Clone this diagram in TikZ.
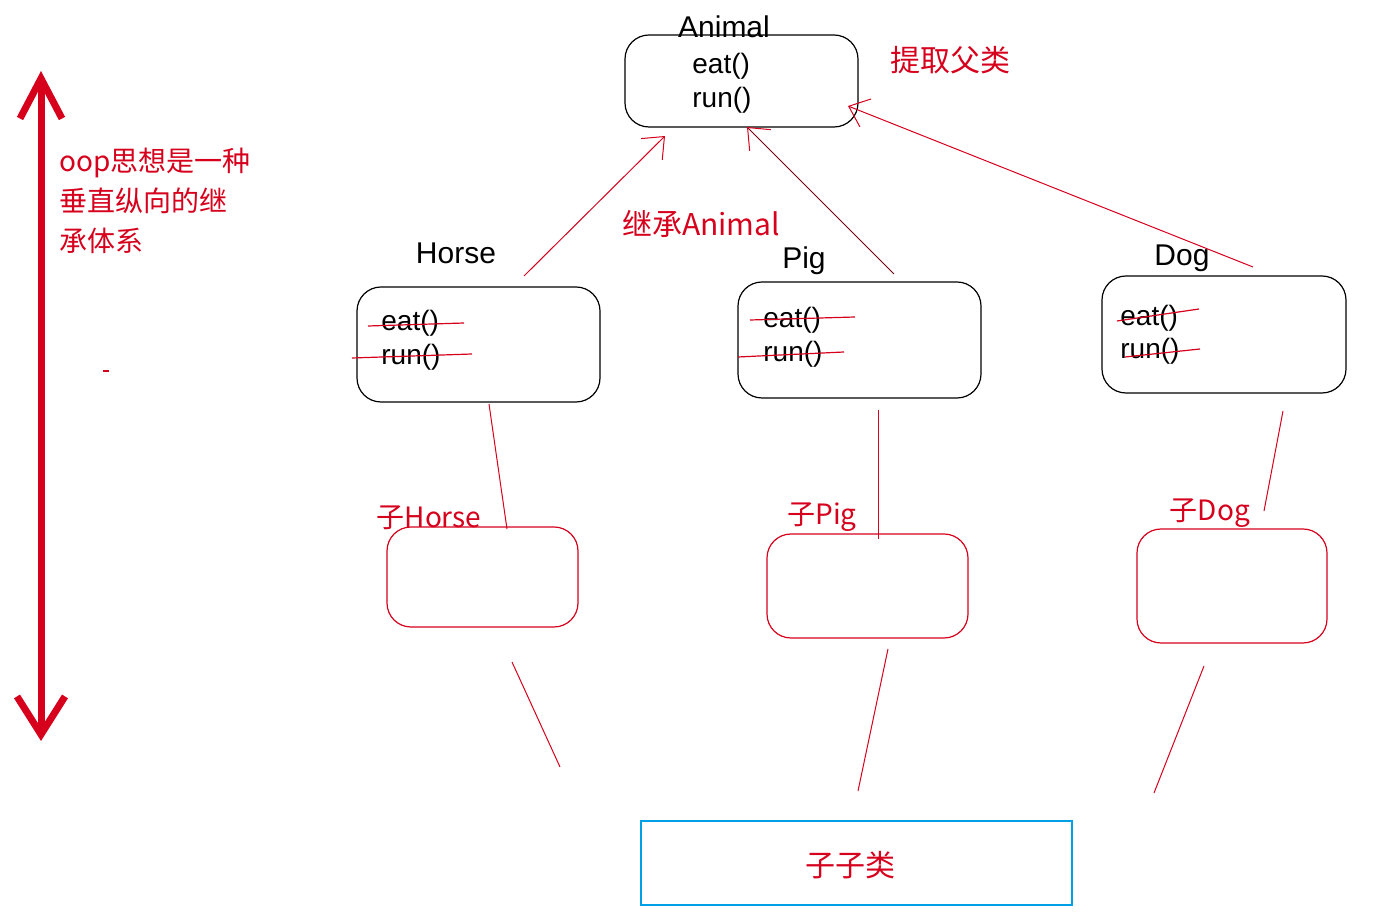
\documentclass[tikz,border=0pt]{standalone}
\usepackage{fontspec}
\setmainfont{Liberation Sans}
\newfontfamily\cjk{Noto Sans CJK SC}
\usetikzlibrary{arrows.meta,calc,positioning}
\definecolor{inkred}{RGB}{214,0,28}
\definecolor{boxblue}{RGB}{0,160,230}
\tikzset{
  classbox/.style={draw,rounded corners=12pt,line width=0.6pt,inner sep=0pt},
  subbox/.style={draw=inkred,rounded corners=12pt,line width=0.6pt,inner sep=0pt},
  title/.style={font=\fontsize{15}{18}\selectfont,inner sep=0pt},
  method/.style={font=\fontsize{14}{16}\selectfont,anchor=west,inner sep=0pt},
  note/.style={text=inkred,font=\cjk\fontsize{14}{20}\selectfont,inner sep=0pt},
  link/.style={inkred,line width=0.5pt},
  inherit/.style={link,-{Straight Barb[length=9pt,width=15pt]}},
  strike/.style={inkred,line width=0.6pt},
}

\begin{document}
\begin{tikzpicture}[x=0.5pt,y=-0.5pt]
    \useasboundingbox (0,0) rectangle (1389,924);
    % left arrow and note
    \coordinate (up) at (41,71);
    \coordinate (down) at (41,741);
    \draw[inkred,line width=3.5pt,{Straight Barb[length=20pt,width=21pt]}-{Straight Barb[length=19pt,width=24pt]}] (up) -- (down);
    \node[note,anchor=west,align=left] (oop) at (59,201) {oop思想是一种\\垂直纵向的继\\承体系};
    \draw[inkred,line width=0.6pt] (103,371) -- (109,371);
    % parent class
    \node[classbox,minimum width=116.5pt,minimum height=46pt] (animal) at (741.5,81) {};
    \node[title] (animalname) at (724,27) {Animal};
    \node[method] (aeat) at (692,66) {eat()};
    \node[method] (arun) at (692,100) {run()};
    \node[note,font=\cjk\fontsize{15}{18}\selectfont] (extract) at (950,60) {提取父类};
    % child classes
    \node[classbox,minimum width=121.5pt,minimum height=57.5pt] (horse) at (478.5,344.5) {};
    \node[title] (horsename) at (456,253) {Horse};
    \node[method] (heat) at (381,323) {eat()};
    \node[method] (hrun) at (381,357) {run()};
    \draw[strike] (368,326) -- (464,323);
    \draw[strike] (352,358) -- (472,354);

    \node[classbox,minimum width=121.5pt,minimum height=58pt] (pig) at (859.5,340) {};
    \node[title] (pigname) at (804,261) {Pig};
    \node[method] (peat) at (763,320) {eat()};
    \node[method] (prun) at (763,354) {run()};
    \draw[strike] (750,320) -- (855,317);
    \draw[strike] (738,357) -- (844,352);

    \node[classbox,minimum width=122pt,minimum height=58.5pt] (dog) at (1224,334.5) {};
    \node[title] (dogname) at (1182,258) {Dog};
    \node[method] (deat) at (1120,318) {eat()};
    \node[method] (drun) at (1120,351) {run()};
    \draw[strike] (1117,321) -- (1199,309);
    \draw[strike] (1125,357) -- (1200,349);

    % inheritance arrows
    \coordinate (hfrom) at (524,276);
    \coordinate (hto) at (665,136);
    \coordinate (pfrom) at (894,274);
    \coordinate (pto) at (747,127);
    \coordinate (dfrom) at (1253,267);
    \coordinate (dto) at (848,106);
    \draw[inherit] (hfrom) -- (hto);
    \draw[line width=0.5pt,inkred!55!black,-{Straight Barb[length=9pt,width=15pt,color=inkred]}] (pfrom) -- (pto);
    \draw[inherit] (dfrom) -- (dto);
    \node[note,font=\cjk\fontsize{15}{18}\selectfont] (extends) at (701,224) {继承Animal};

    % sub classes
    \node[subbox,minimum width=95.5pt,minimum height=50pt] (subhorse) at (482.5,577) {};
    \node[note] (subhorsename) at (429,518) {子Horse};
    \node[subbox,minimum width=100.5pt,minimum height=52pt] (subpig) at (867.5,586) {};
    \node[note] (subpigname) at (822,517) {子Pig};
    \node[subbox,minimum width=95pt,minimum height=57pt] (subdog) at (1232,586) {};
    \node[note] (subdogname) at (1210,513) {子Dog};

    \coordinate (h1) at (489,404); \coordinate (h2) at (507,529);
    \coordinate (p1) at (878,410); \coordinate (p2) at (878,539);
    \coordinate (d1) at (1283,411); \coordinate (d2) at (1264,511);
    \draw[link] (h1) -- (h2);
    \draw[link] (p1) -- (p2);
    \draw[link] (d1) -- (d2);

    % sub sub class
    \node[draw=boxblue,line width=1pt,minimum width=215.5pt,minimum height=42pt,inner sep=0pt] (subsub) at (856.5,863) {};
    \node[note,font=\cjk\fontsize{15}{18}\selectfont] (subsubname) at (850,865) {子子类};
    \coordinate (h3) at (512,662); \coordinate (h4) at (560,767);
    \coordinate (p3) at (888,649); \coordinate (p4) at (858,791);
    \coordinate (d3) at (1204,666); \coordinate (d4) at (1154,793);
    \draw[link] (h3) -- (h4);
    \draw[link] (p3) -- (p4);
    \draw[link] (d3) -- (d4);
  \end{tikzpicture}
\end{document}
